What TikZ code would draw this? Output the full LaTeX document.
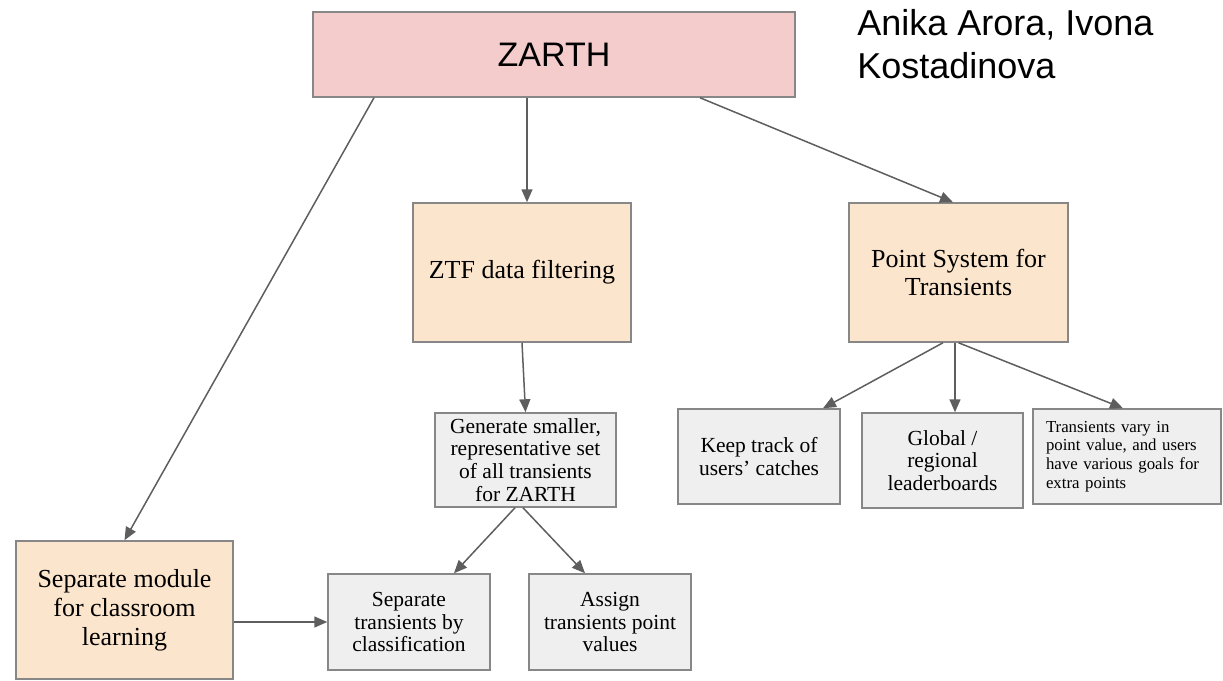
\documentclass[tikz,border=0pt]{standalone}
\usepackage{fontspec}
\setmainfont{Liberation Serif}
\newfontfamily\slidefont{Liberation Sans}
\usetikzlibrary{positioning}
\usetikzlibrary{calc}
\usetikzlibrary{arrows.meta}
\definecolor{zarthpink}{HTML}{F4CCCC}
\definecolor{moduleorange}{HTML}{FCE5CD}
\definecolor{taskgray}{HTML}{EFEFEF}
\definecolor{edgegray}{HTML}{878787}
\definecolor{arrowgray}{HTML}{5E5E5E}

\begin{document}
\begin{tikzpicture}[x=0.5pt, y=-0.5pt,
            box/.style={draw=edgegray, line width=0.75pt, inner sep=2pt, align=center},
            title/.style={box, fill=zarthpink, font=\slidefont\fontsize{17}{20}\selectfont},
            module/.style={box, fill=moduleorange, font=\fontsize{13}{14.4}\selectfont},
            task/.style={box, fill=taskgray, font=\fontsize{10.75}{11.4}\selectfont},
            link/.style={draw=arrowgray, line width=0.75pt, -{Triangle[length=6.5pt, width=5.5pt]}}]
            \useasboundingbox (0,0) rectangle (1223,681);
            \node[title, minimum width=241pt, minimum height=42.5pt] (zarth) at (554,54.5) {ZARTH};
            \node[anchor=north west, inner sep=0pt, align=left, font=\slidefont\fontsize{18}{21.5}\selectfont] (names) at (857,9) {Anika Arora, Ivona\\Kostadinova};
            \node[module, minimum width=109pt, minimum height=69.5pt] (ztf) at (522,272.5) {ZTF data filtering};
            \node[module, minimum width=109.5pt, minimum height=69.5pt] (points) at (958.5,272.5) {Point System for\\Transients};
            \node[module, minimum width=108.5pt, minimum height=69pt] (classroom) at (124.5,610) {Separate module\\for classroom\\learning};
            \node[task, minimum width=90.5pt, minimum height=47pt] (subset) at (525.5,460) {Generate smaller,\\representative set\\of all transients\\for ZARTH};
            \node[task, minimum width=81pt, minimum height=47.5pt] (catches) at (759,456.5) {Keep track of\\users' catches};
            \node[task, minimum width=80.5pt, minimum height=47.5pt] (boards) at (942.5,460.5) {Global /\\regional\\leaderboards};
            \node[task, minimum width=94pt, minimum height=47.5pt, text width=81pt, align=left, font=\fontsize{8.4}{9.3}\selectfont] (goals) at (1127,456.5) {Transients vary in\\point value, and users\\have various goals for\\extra points};
            \node[task, minimum width=81pt, minimum height=48pt] (classify) at (409,622) {Separate\\transients by\\classification};
            \node[task, minimum width=81pt, minimum height=48pt] (assign) at (610,622) {Assign\\transients point\\values};
            \draw[link] ($(zarth.south)+(-180,0)$) -- (classroom.north);
            \draw[link] ($(zarth.south)+(-27,0)$) -- ($(ztf.north)+(5,0)$);
            \draw[link] ($(zarth.south)+(146,0)$) -- ($(points.north)+(-5.5,0)$);
            \draw[link] (ztf.south) -- (subset.north);
            \draw[link] ($(points.south)+(-15.5,0)$) -- ($(catches.north)+(64,0)$);
            \draw[link] ($(points.south)+(-3.5,0)$) -- ($(boards.north)+(12.5,0)$);
            \draw[link] (points.south) -- ($(goals.north)+(-4,0)$);
            \draw[link] ($(subset.south)+(-10.5,0)$) -- ($(classify.north)+(45,0)$);
            \draw[link] ($(subset.south)+(-2.5,0)$) -- ($(assign.north)+(-25,0)$);
            \draw[link] (classroom.east |- classify.west) -- (classify.west);
        \end{tikzpicture}
\end{document}
